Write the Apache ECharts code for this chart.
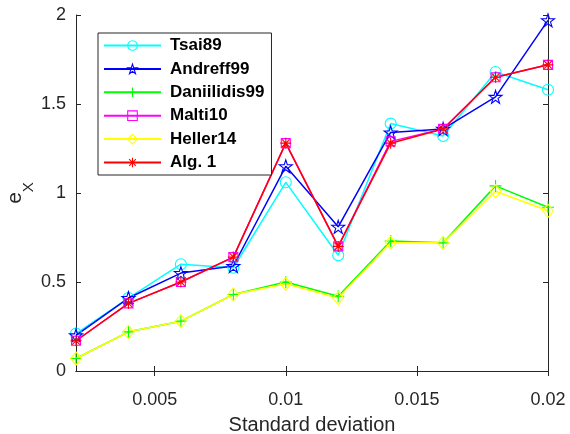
<!DOCTYPE html>
<html>
<head>
<meta charset="utf-8">
<script src="https://cdn.jsdelivr.net/npm/echarts@6/dist/echarts.min.js"></script>
<style>
  html, body { margin: 0; padding: 0; background: #fff; }
  #chart { width: 570px; height: 434px; }
</style>
</head>
<body>
<div id="chart"></div>
<script type="text/javascript">
var stdDev = [0.002, 0.004, 0.006, 0.008, 0.01, 0.012, 0.014, 0.016, 0.018, 0.02];
var xTicks = [0.005, 0.01, 0.015, 0.02];
var yTicks = [0, 0.5, 1, 1.5, 2];

var tsai89      = [0.21, 0.41, 0.60, 0.58, 1.06, 0.65, 1.39, 1.32, 1.68, 1.58];
var andreff99   = [0.20, 0.41, 0.55, 0.59, 1.15, 0.81, 1.34, 1.36, 1.54, 1.97];
var daniilidis99 = [0.07, 0.22, 0.28, 0.43, 0.50, 0.42, 0.73, 0.72, 1.04, 0.92];
var malti10     = [0.17, 0.38, 0.50, 0.64, 1.28, 0.70, 1.29, 1.36, 1.65, 1.72];
var heller14    = [0.07, 0.22, 0.28, 0.43, 0.49, 0.41, 0.72, 0.72, 1.01, 0.90];
var alg1        = [0.17, 0.38, 0.50, 0.64, 1.28, 0.70, 1.28, 1.36, 1.65, 1.72];

// marker glyphs (matlab style)
var STAR = 'path://M10 0L12.25 6.91L19.51 6.91L13.63 11.18L15.88 18.09L10 13.82L4.12 18.09L6.37 11.18L0.49 6.91L7.75 6.91Z';
var PLUS = 'path://M5 0L5 10M0 5L10 5';
var ASTER = 'path://M5 0L5 10M0 5L10 5M1.5 1.5L8.5 8.5M1.5 8.5L8.5 1.5';

var axisColor = '#262626';

function makeSeries(name, values, color, symbol, size) {
    var pts = [];
    for (var i = 0; i < stdDev.length; i++) {
        pts.push([stdDev[i], values[i]]);
    }
    return {
        name: name,
        type: 'line',
        data: pts,
        symbol: symbol,
        symbolSize: size,
        showAllSymbol: true,
        color: color,
        lineStyle: { color: color, width: 1.5 },
        itemStyle: { color: 'rgba(0,0,0,0)', borderColor: color, borderWidth: 1.1 },
        emphasis: { disabled: true },
        animation: false
    };
}

var chart = echarts.init(document.getElementById('chart'));
chart.setOption({
    backgroundColor: '#fff',
    animation: false,
    grid: { left: 76, right: 22, top: 15, bottom: 63, containLabel: false, outerBoundsMode: 'none' },
    legend: {
        orient: 'vertical',
        left: 98,
        top: 33,
        itemWidth: 57,
        itemHeight: 12,
        itemGap: 6.4,
        padding: [4, 7, 4, 5],
        borderColor: axisColor,
        borderWidth: 1,
        backgroundColor: '#fff',
        itemStyle: { color: 'rgba(0,0,0,0)', borderWidth: 1.1 },
        textStyle: {
            fontFamily: 'Liberation Sans',
            fontWeight: 'bold',
            fontSize: 17,
            color: '#000',
            padding: [0, 0, 0, 4]
        },
        data: ['Tsai89', 'Andreff99', 'Daniilidis99', 'Malti10', 'Heller14', 'Alg. 1']
    },
    xAxis: [{
        type: 'value',
        min: stdDev[0],
        max: stdDev[stdDev.length - 1],
        name: 'Standard deviation',
        nameLocation: 'middle',
        nameGap: 44,
        nameMoveOverlap: false,
        nameTextStyle: { fontFamily: 'Liberation Sans', fontSize: 20, color: axisColor },
        axisLine: { lineStyle: { color: axisColor, width: 1 } },
        axisTick: { inside: true, length: 5, customValues: xTicks, lineStyle: { color: axisColor } },
        axisLabel: { customValues: xTicks, margin: 20, fontFamily: 'Liberation Sans', fontSize: 18, color: axisColor },
        splitLine: { show: false }
    }, {
        type: 'value',
        position: 'top',
        min: stdDev[0],
        max: stdDev[stdDev.length - 1],
        axisLine: { lineStyle: { color: axisColor, width: 1 } },
        axisTick: { inside: true, length: 5, customValues: xTicks, lineStyle: { color: axisColor } },
        axisLabel: { show: false },
        splitLine: { show: false }
    }],
    yAxis: [{
        type: 'value',
        min: yTicks[0],
        max: yTicks[yTicks.length - 1],
        interval: 0.5,
        name: '{e|e}{s|X}',
        nameLocation: 'middle',
        nameRotate: 90,
        nameGap: 40,
        nameMoveOverlap: false,
        nameTextStyle: {
            color: axisColor,
            rich: {
                e: { fontFamily: 'Liberation Sans', fontSize: 21, color: axisColor, verticalAlign: 'bottom', padding: [0, 0, 10, 0] },
                s: { fontFamily: 'Liberation Sans', fontSize: 15, color: axisColor, verticalAlign: 'bottom' }
            }
        },
        axisLine: { lineStyle: { color: axisColor, width: 1 } },
        axisTick: { inside: true, length: 5, lineStyle: { color: axisColor } },
        axisLabel: { margin: 10, padding: [4, 0, 0, 0], fontFamily: 'Liberation Sans', fontSize: 18, color: axisColor },
        splitLine: { show: false }
    }, {
        type: 'value',
        position: 'right',
        min: yTicks[0],
        max: yTicks[yTicks.length - 1],
        interval: 0.5,
        axisLine: { lineStyle: { color: axisColor, width: 1 } },
        axisTick: { inside: true, length: 5, lineStyle: { color: axisColor } },
        axisLabel: { show: false },
        splitLine: { show: false }
    }],
    series: [
        makeSeries('Tsai89', tsai89, '#00FFFF', 'circle', 11),
        makeSeries('Andreff99', andreff99, '#0000FF', STAR, 13),
        makeSeries('Daniilidis99', daniilidis99, '#00FF00', PLUS, 12),
        makeSeries('Malti10', malti10, '#FF00FF', 'rect', 9),
        makeSeries('Heller14', heller14, '#FFFF00', 'diamond', [11, 13]),
        makeSeries('Alg. 1', alg1, '#FF0000', ASTER, 11)
    ]
});
</script>
</body>
</html>
